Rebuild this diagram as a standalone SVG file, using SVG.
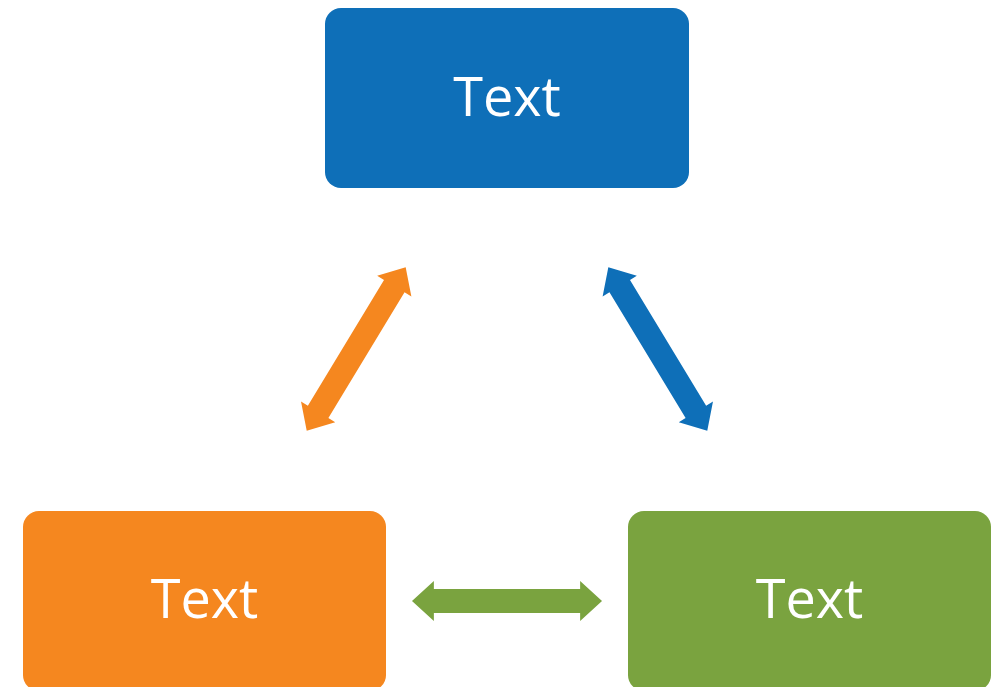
<svg xmlns="http://www.w3.org/2000/svg" width="997" height="687" viewBox="0 0 997 687">
<defs>
<style>
.box{stroke:none}
.lbl{font-family:"Open Sans","Liberation Sans",sans-serif;font-size:54px;fill:#ffffff;text-anchor:middle}
</style>
<path id="dbl" d="M-95.5,0 L-73.5,-20 L-73.5,-12 L73.5,-12 L73.5,-20 L95.5,0 L73.5,20 L73.5,12 L-73.5,12 L-73.5,20 Z"/>
</defs>
<rect width="997" height="687" fill="#ffffff"/>
<g id="connectors">
<use href="#dbl" fill="#F5871F" transform="translate(356.2,349) rotate(-58.8)"/>
<use href="#dbl" fill="#0E6FB8" transform="translate(657.8,349) rotate(58.8)"/>
<use href="#dbl" fill="#7AA33F" transform="translate(507,601) scale(0.995,1)"/>
</g>
<g id="node-top">
<rect class="box" x="325" y="8" width="364" height="180" rx="16" fill="#0E6FB8"/>
<text class="lbl" x="507" y="116">Text</text>
</g>
<g id="node-left">
<rect class="box" x="23" y="511" width="363" height="180" rx="16" fill="#F5871F"/>
<text class="lbl" x="204.5" y="618">Text</text>
</g>
<g id="node-right">
<rect class="box" x="628" y="511" width="363" height="180" rx="16" fill="#7AA33F"/>
<text class="lbl" x="809.5" y="618">Text</text>
</g>
</svg>
